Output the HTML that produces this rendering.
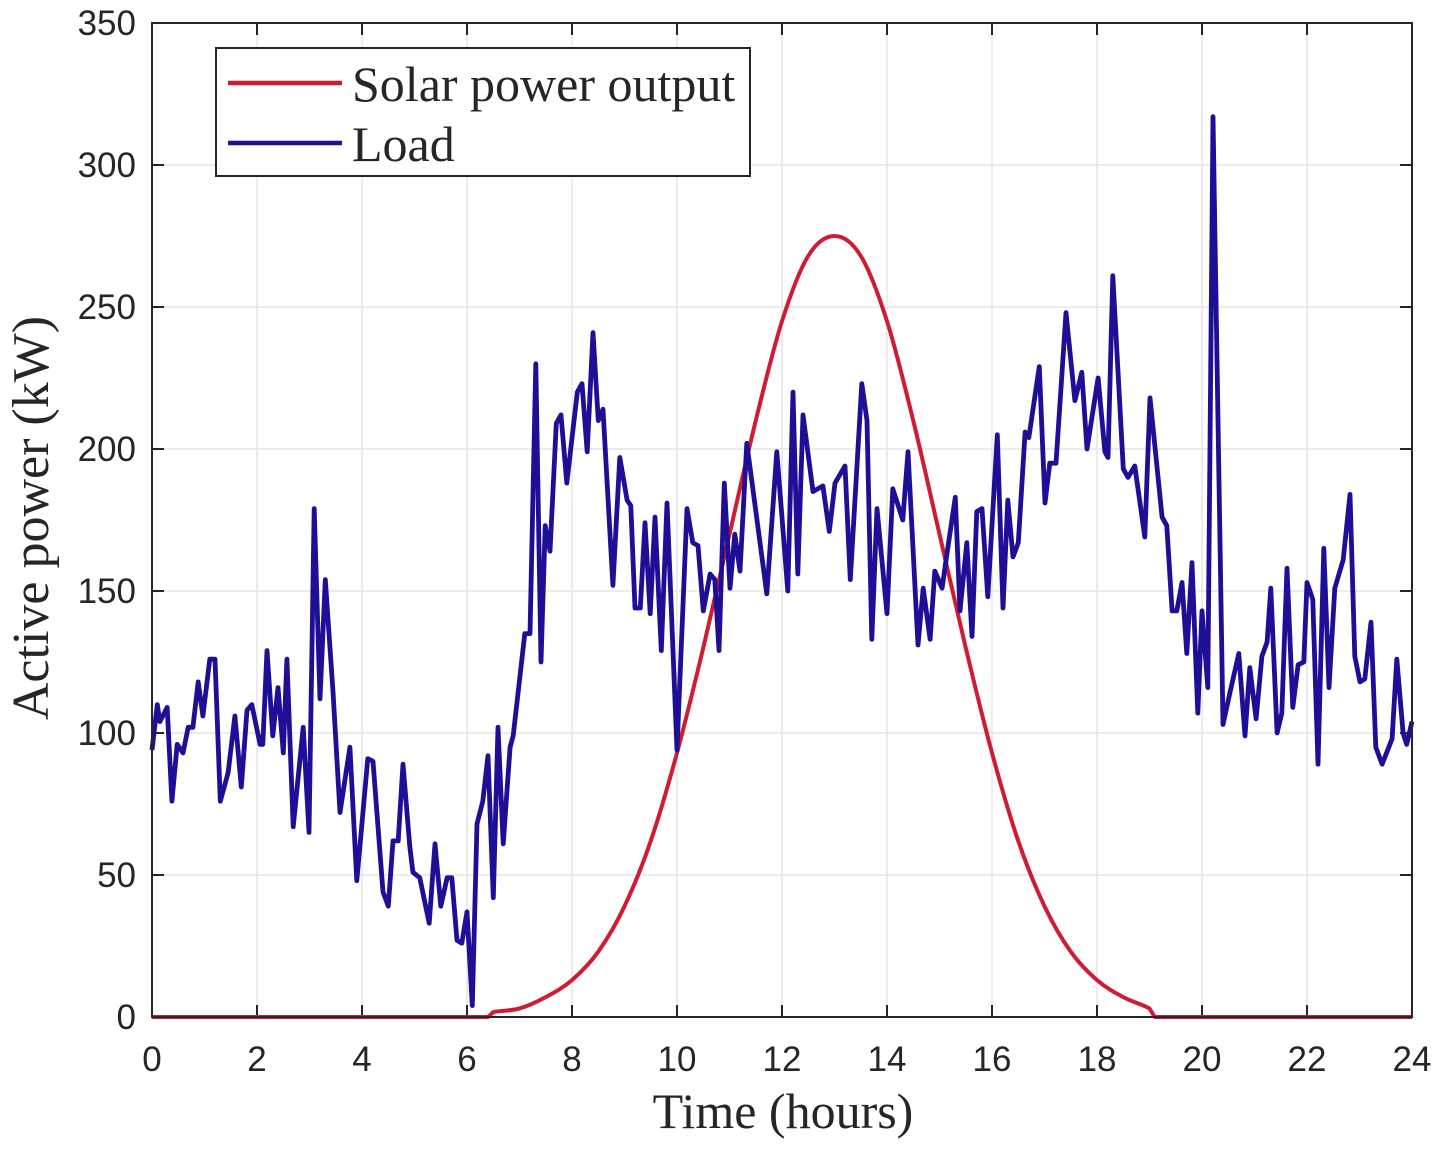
<!DOCTYPE html>
<html><head><meta charset="utf-8"><style>
html,body{margin:0;padding:0;background:#fff;}
svg{display:block;}
.tk{font-family:"Liberation Sans",sans-serif;font-size:35px;fill:#262626;}
.sf{font-family:"Liberation Serif",serif;font-size:50px;fill:#262626;}
</style></head><body>
<svg id="chart" width="1447" height="1154" viewBox="0 0 1447 1154">
<g id="grid"></g>
<g id="ticks"></g>
<g id="series"></g>
<rect x="152" y="23" width="1260" height="994" fill="none" stroke="#262626" stroke-width="2"/>
<text class="sf" x="783" y="1128" text-anchor="middle">Time (hours)</text>
<text class="sf" x="0" y="0" text-anchor="middle" transform="translate(48,518) rotate(-90)" style="font-size:52px">Active power (kW)</text>
<g>
<rect x="216" y="48" width="534" height="128" fill="#fff" stroke="#262626" stroke-width="2"/>
<line x1="228" y1="83" x2="342" y2="83" stroke="#d01c32" stroke-width="4.5"/>
<text class="sf" x="352" y="101">Solar power output</text>
<line x1="228" y1="143" x2="342" y2="143" stroke="#1f0f96" stroke-width="4.5"/>
<text class="sf" x="352" y="161">Load</text>
</g>
</svg>
<script>
const xTicks=[0,2,4,6,8,10,12,14,16,18,20,22,24];
const yTicks=[0,50,100,150,200,250,300,350];
const loadTimes=[0,0.10,0.15,0.29,0.38,0.48,0.59,0.69,0.78,0.88,0.97,1.10,1.20,1.30,1.45,1.58,1.70,1.81,1.90,2.06,2.11,2.19,2.30,2.40,2.50,2.57,2.69,2.88,2.99,3.09,3.20,3.30,3.45,3.58,3.77,3.90,4.11,4.21,4.40,4.50,4.59,4.69,4.78,4.91,4.97,5.10,5.28,5.39,5.50,5.62,5.71,5.81,5.90,6.00,6.10,6.19,6.30,6.40,6.50,6.59,6.69,6.82,6.88,7.10,7.20,7.31,7.41,7.49,7.58,7.70,7.79,7.90,8.10,8.19,8.29,8.40,8.50,8.59,8.78,8.91,9.05,9.12,9.20,9.30,9.39,9.49,9.58,9.70,9.81,10.00,10.19,10.30,10.40,10.50,10.63,10.72,10.80,10.90,11.01,11.10,11.20,11.33,11.71,11.90,12.11,12.21,12.30,12.40,12.59,12.78,12.90,13.01,13.20,13.30,13.52,13.62,13.71,13.81,14.00,14.11,14.30,14.40,14.59,14.69,14.82,14.91,15.05,15.14,15.30,15.39,15.52,15.62,15.71,15.81,15.92,16.10,16.21,16.30,16.40,16.50,16.63,16.70,16.90,17.01,17.10,17.22,17.41,17.58,17.71,17.81,18.02,18.15,18.21,18.30,18.50,18.59,18.72,18.91,19.01,19.24,19.33,19.43,19.52,19.62,19.71,19.81,19.92,20.00,20.11,20.21,20.40,20.53,20.70,20.82,20.91,21.03,21.14,21.24,21.31,21.43,21.52,21.62,21.73,21.83,21.94,22.00,22.11,22.21,22.32,22.42,22.53,22.69,22.82,22.91,23.01,23.10,23.22,23.31,23.43,23.62,23.71,23.83,23.90,24.0];
const loadValues=[94,110,104,109,76,96,93,102,102,118,106,126,126,76,86,106,81,108,110,96,96,129,99,116,93,126,67,102,65,179,112,154,114,72,95,48,91,90,44,39,62,62,89,60,51,49,33,61,39,49,49,27,26,37,4,68,76,92,42,102,61,95,99,135,135,230,125,173,164,209,212,188,220,223,199,241,210,214,152,197,182,180,144,144,174,142,176,129,181,94,179,167,166,143,156,154,129,188,151,170,157,202,149,199,150,220,156,212,185,187,171,188,194,154,223,210,133,179,142,186,175,199,131,151,133,157,151,163,183,143,167,134,178,179,148,205,144,182,162,167,206,204,229,181,195,195,248,217,227,200,225,199,197,261,193,190,194,169,218,176,173,143,143,153,128,160,107,143,116,317,103,114,128,99,123,105,127,132,151,100,107,158,109,124,125,153,147,89,165,116,151,161,184,127,118,119,139,95,89,98,126,100,96,104];
const solarTimes=[0,6.4,6.5,7,7.5,8,8.5,9,9.5,10,10.5,11,11.5,12,12.5,13,13.5,14,14.5,15,15.5,16,16.5,17,17.5,18,18.5,19,19.1,24];
const solarValues=[0,0,1.7,3,7,13,23,39,62,93,130,170,210,245,268,275,268,245,210,170,130,93,62,39,23,13,7,3,0,0];

const X0=152,X1=1412,Y0=1017,Y1=23;
function xs(t){return X0+(t/24)*(X1-X0);}
function ys(v){return Y0-(v/350)*(Y0-Y1);}
const NS='http://www.w3.org/2000/svg';
const grid=document.getElementById('grid'),ticks=document.getElementById('ticks'),series=document.getElementById('series');
function mk(tag,attrs,parent){const e=document.createElementNS(NS,tag);for(const k in attrs)e.setAttribute(k,attrs[k]);parent.appendChild(e);return e;}
xTicks.forEach(t=>{
  const x=xs(t);
  if(t>0&&t<24){const g=mk('line',{x1:x,y1:Y1,x2:x,y2:Y0,stroke:'#e6e6e6','stroke-width':1.5},grid);
    
    }
  const a=mk('line',{x1:x,y1:Y0,x2:x,y2:Y0-12,stroke:'#262626','stroke-width':2},ticks);
  
  
  const b=mk('line',{x1:x,y1:Y1,x2:x,y2:Y1+12,stroke:'#262626','stroke-width':2},ticks);
  
  
  const l=mk('text',{x:x,y:1071,'text-anchor':'middle',class:'tk'},ticks);l.textContent=t;
  
  
});
yTicks.forEach(v=>{
  const y=ys(v);
  if(v>0&&v<350){const g=mk('line',{x1:X0,y1:y,x2:X1,y2:y,stroke:'#e6e6e6','stroke-width':1.5},grid);
    
    }
  const a=mk('line',{x1:X0,y1:y,x2:X0+12,y2:y,stroke:'#262626','stroke-width':2},ticks);
  
  
  const b=mk('line',{x1:X1,y1:y,x2:X1-12,y2:y,stroke:'#262626','stroke-width':2},ticks);
  
  
  const l=mk('text',{x:136,y:y+12,'text-anchor':'end',class:'tk'},ticks);l.textContent=v;
  
  
});
let sp=solarTimes.map((t,i)=>[xs(t),ys(solarValues[i])]);
let d='M'+sp[0][0]+','+sp[0][1];
for(let i=0;i<sp.length-1;i++){
  const p0=sp[Math.max(0,i-1)],p1=sp[i],p2=sp[i+1],p3=sp[Math.min(sp.length-1,i+2)];
  if(solarValues[i]===0||solarValues[i+1]===0){d+=' L'+p2[0]+','+p2[1];continue;}
  const c1=[p1[0]+(p2[0]-p0[0])/6,p1[1]+(p2[1]-p0[1])/6],c2=[p2[0]-(p3[0]-p1[0])/6,p2[1]-(p3[1]-p1[1])/6];
  d+=' C'+c1+' '+c2+' '+p2;
}
const solar=mk('path',{d:d,fill:'none',stroke:'#d01c32','stroke-width':4,'stroke-linejoin':'round'},series);


const lp=loadTimes.map((t,i)=>xs(t).toFixed(1)+','+ys(loadValues[i]).toFixed(1)).join(' ');
const load=mk('polyline',{points:lp,fill:'none',stroke:'#1f0f96','stroke-width':4.8,'stroke-linejoin':'round'},series);


</script>
</body></html>
